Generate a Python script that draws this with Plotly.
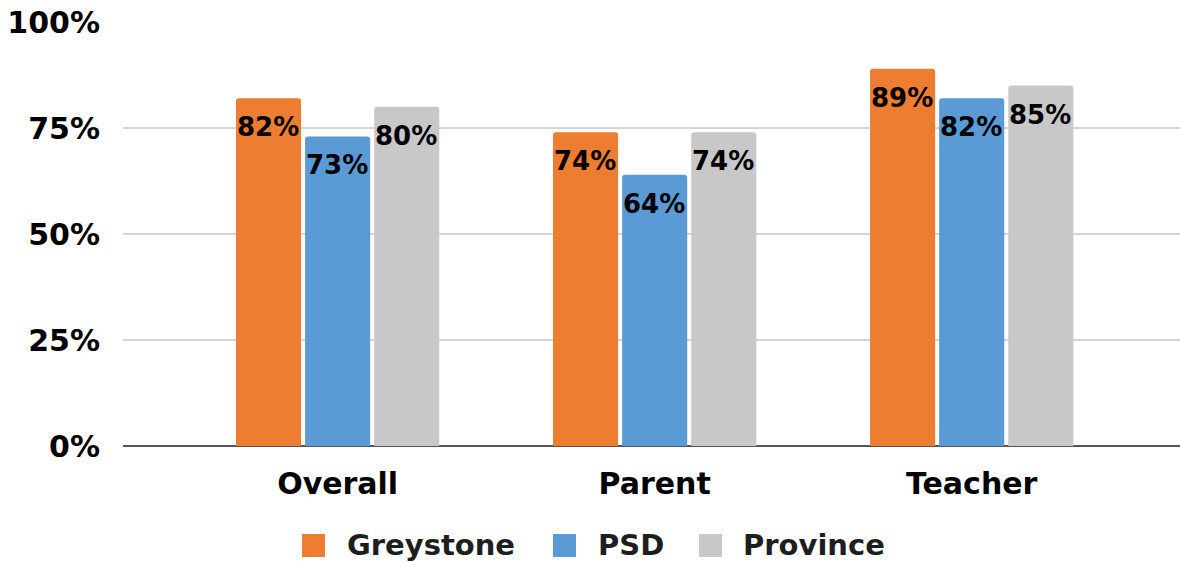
import plotly.graph_objects as go

# Survey results by respondent group
categories = ["Overall", "Parent", "Teacher"]
series_names = ["Greystone", "PSD", "Province"]
greystone = [82, 74, 89]
psd = [73, 64, 82]
province = [80, 74, 85]
series_values = [greystone, psd, province]
colors = ["#ED7D31", "#5B9BD5", "#C8C8C8"]
y_tick_vals = [0, 25, 50, 75, 100]
y_tick_text = ["0%", "25%", "50%", "75%", "100%"]

W, H = 1180, 563
M_L, M_R, M_T, M_B = 123, 0, 22, 117
PLOT_W = W - M_L - M_R
PLOT_H = H - M_T - M_B

BARGAP = 0.346
GROUPGAP = 0.058
X_RANGE = [-0.677, 2.657]

label_font = dict(family="DejaVu Sans", size=26, color="#000000", weight="bold")
axis_font = dict(family="DejaVu Sans", size=30, color="#000000", weight="bold")

fig = go.Figure()
for name, vals, col in zip(series_names, series_values, colors):
    fig.add_trace(go.Bar(
        name=name, x=categories, y=vals,
        marker=dict(color=col, line=dict(width=0), cornerradius=3),
        showlegend=False, hoverinfo="skip",
    ))

# value labels near the top of each bar
slot = (1 - BARGAP) / len(series_names)
annotations = []
for j, vals in enumerate(series_values):
    off = (j - (len(series_names) - 1) / 2) * slot
    for i, v in enumerate(vals):
        annotations.append(dict(
            x=i + off, y=v, xref="x", yref="y", text=f"{v}%",
            showarrow=False, yanchor="top", xanchor="center",
            yshift=-12, xshift=-1, font=label_font,
        ))

# legend row drawn with swatches and labels
def px_x(px):
    return (px - M_L) / PLOT_W

def px_y(py):
    return (H - M_B - py) / PLOT_H

legend_swatch_left = [302, 553, 699]
legend_text_left = [345, 596, 741]
shapes = []
for name, col, sx, tx in zip(series_names, colors, legend_swatch_left, legend_text_left):
    shapes.append(dict(
        type="rect", xref="paper", yref="paper",
        x0=px_x(sx), x1=px_x(sx + 23), y0=px_y(557), y1=px_y(534),
        fillcolor=col, line=dict(width=0),
    ))
    annotations.append(dict(
        x=px_x(tx), y=px_y(545), xref="paper", yref="paper", text=name,
        showarrow=False, xanchor="left", yanchor="middle",
        font=dict(family="DejaVu Sans", size=29, color="#1E1E1E", weight="bold"),
    ))

fig.update_layout(
    width=W, height=H,
    margin=dict(l=M_L, r=M_R, t=M_T, b=M_B),
    paper_bgcolor="white", plot_bgcolor="white",
    barmode="group", bargap=BARGAP, bargroupgap=GROUPGAP,
    annotations=annotations, shapes=shapes,
    xaxis=dict(
        type="category", range=X_RANGE, showgrid=False,
        showline=False, ticks="", ticklabelstandoff=17,
        tickfont=axis_font,
    ),
    yaxis=dict(
        range=[0, 100], tickvals=y_tick_vals, ticktext=y_tick_text,
        showgrid=True, gridcolor="#D4D4D4", gridwidth=2,
        zeroline=True, zerolinecolor="#555555", zerolinewidth=2,
        showline=False, ticks="", ticklabelstandoff=22,
        tickfont=axis_font,
    ),
)

fig.write_html("out.html")
